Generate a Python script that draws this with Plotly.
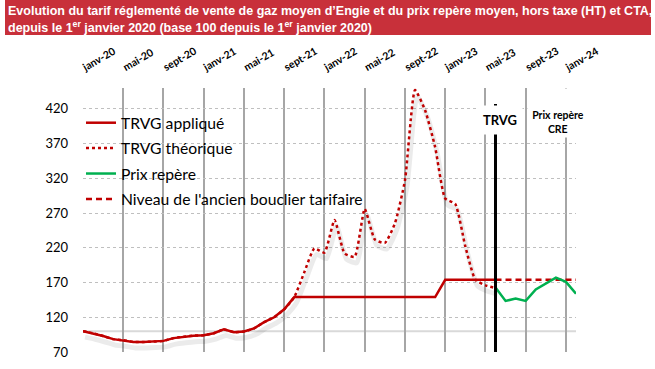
import plotly.graph_objects as go

# ---------------- data ----------------
MONTHS_FR = ["janv", "févr", "mars", "avr", "mai", "juin",
             "juil", "août", "sept", "oct", "nov", "déc"]
CATEGORIES = [f"{m}-{y}" for y in range(20, 25) for m in MONTHS_FR][:50]   # janv-20 .. févr-24
TICK_LABELS = CATEGORIES[::4]                                             # janv-20, mai-20, ... janv-24

TRVG_APPLIQUE = [100, 97, 93, 88.5, 87, 84.5, 84.5, 85, 86, 90, 92, 93.5,
                 94, 97, 102.5, 98.5, 99.5, 104, 113, 120, 131.5, 149,
                 149, 149, 149, 149, 149, 149, 149, 149, 149, 149, 149, 149, 149, 149,
                 174, 174, 174, 174, 174, 174]
TRVG_THEORIQUE = [100, 97, 93, 88.5, 87, 84.5, 84.5, 85, 86, 90, 92, 93.5,
                  94, 97, 102.5, 98.5, 99.5, 104, 113, 120, 131.5, 149,
                  185, 219, 213, 260, 212, 207, 276, 232, 227, 255, 317, 447,
                  418, 365, 291, 283, 222, 174, 166, 162]
PRIX_REPERE = [163, 143.5, 147, 143.5, 160, 168, 177, 171, 154]
BOUCLIER = [174, 174, 174, 174, 174, 174, 174, 174, 174]

X_TRVG = CATEGORIES[:len(TRVG_APPLIQUE)]
X_PRIX = CATEGORIES[len(TRVG_APPLIQUE) - 1:]

Y_TICKS = [70, 120, 170, 220, 270, 320, 370, 420]
Y_RANGE = [70, 450]
BASE = 100
TRVG_END = "juin-23"

TITLE_L1 = "Evolution du tarif réglementé de vente de gaz moyen d’Engie et du prix repère moyen, hors taxe (HT) et CTA,"
TITLE_L2 = "depuis le 1<sup>er</sup> janvier 2020 (base 100 depuis le 1<sup>er</sup> janvier 2020)"

# ---------------- styling ----------------
W, H = 655, 369
ML, MR, MT, MB = 83, 79, 88, 17
PW, PH = W - ML - MR, H - MT - MB


def px_x(x):
    return (x - ML) / PW


def px_y(y):
    return (H - MB - y) / PH


RED = "#C00000"
GREEN = "#00B050"
FONT = "Lato, 'Open Sans', sans-serif"
TITLE_FONT = "'Liberation Sans Narrow', 'Arial Narrow', 'Liberation Sans', Arial, sans-serif"
SHADOW_DX = 0.2        # months
SHADOW_DY = 8.6        # index units

fig = go.Figure()

# soft shadow of the theoretical curve (drawn on shifted, hidden base axes)
fig.add_trace(go.Scatter(
    x=X_TRVG, y=TRVG_THEORIQUE, mode="lines", xaxis="x", yaxis="y",
    line=dict(color="rgba(0,0,0,0.08)", width=5, shape="spline", smoothing=0.5),
    showlegend=False, hoverinfo="skip"))

fig.add_trace(go.Scatter(
    x=X_TRVG, y=TRVG_THEORIQUE, mode="lines", name="TRVG théorique",
    xaxis="x2", yaxis="y2", legendrank=2, legendgroup="b",
    line=dict(color=RED, width=2.5, dash="dot", shape="spline", smoothing=0.5)))
fig.add_trace(go.Scatter(
    x=X_TRVG, y=TRVG_APPLIQUE, mode="lines", name="TRVG appliqué",
    xaxis="x2", yaxis="y2", legendrank=1, legendgroup="a",
    line=dict(color=RED, width=2.5)))
fig.add_trace(go.Scatter(
    x=X_PRIX, y=BOUCLIER, mode="lines", name="Niveau de l'ancien bouclier tarifaire",
    xaxis="x2", yaxis="y2", legendrank=4, legendgroup="d",
    line=dict(color=RED, width=2.5, dash="6px,4px")))
fig.add_trace(go.Scatter(
    x=X_PRIX, y=PRIX_REPERE, mode="lines", name="Prix repère",
    xaxis="x2", yaxis="y2", legendrank=3, legendgroup="c",
    line=dict(color=GREEN, width=2.5)))

fig.update_layout(
    width=W, height=H,
    margin=dict(l=ML, r=MR, t=MT, b=MB, autoexpand=False),
    paper_bgcolor="white", plot_bgcolor="white",
    font=dict(family=FONT, color="#000000"),
    xaxis=dict(type="category", categoryorder="array", categoryarray=CATEGORIES,
               range=[-SHADOW_DX, len(CATEGORIES) - 1 - SHADOW_DX], visible=False,
               automargin=False),
    yaxis=dict(range=[Y_RANGE[0] + SHADOW_DY, Y_RANGE[1] + SHADOW_DY], visible=False,
               automargin=False),
    xaxis2=dict(type="category", categoryorder="array", categoryarray=CATEGORIES,
                overlaying="x", side="top", range=[0, len(CATEGORIES) - 1],
                tickmode="array", tickvals=TICK_LABELS, ticktext=TICK_LABELS,
                tickangle=-30, tickfont=dict(size=10.5, color="#000000", weight="bold"),
                ticks="", ticklabelstandoff=13, automargin=False,
                showgrid=True, gridcolor="#A6A6A6", gridwidth=1.5,
                showline=False, zeroline=False),
    yaxis2=dict(overlaying="y", side="left", range=Y_RANGE,
                tickmode="array", tickvals=Y_TICKS, automargin=False,
                tickfont=dict(size=13, color="#000000"), ticks="", ticklabelstandoff=14,
                showgrid=True, gridcolor="#BFBFBF", gridwidth=1, griddash="dot",
                showline=False, zeroline=False),
    legend=dict(x=px_x(81), y=px_y(106), xanchor="left", yanchor="top",
                bgcolor="rgba(0,0,0,0)", font=dict(size=15.7, color="#000000"),
                traceorder="grouped", tracegroupgap=2, itemwidth=30),
    showlegend=True,
)

shapes = [
    # title banner
    dict(type="rect", xref="paper", yref="paper",
         x0=px_x(5), x1=px_x(651), y0=px_y(35), y1=px_y(0),
         fillcolor="#C8303A", line=dict(width=0), layer="below"),
    # base 100 line
    dict(type="line", xref="paper", yref="y2", x0=0, x1=1, y0=BASE, y1=BASE,
         line=dict(color="#D9D9D9", width=2), layer="between"),
    # end of TRVG
    dict(type="line", xref="x2", yref="paper", x0=TRVG_END, x1=TRVG_END,
         y0=0, y1=px_y(104), line=dict(color="#000000", width=3), layer="above"),
]
fig.update_layout(shapes=shapes)

annotations = [
    dict(text=TITLE_L1, xref="paper", yref="paper",
         x=px_x(6), y=px_y(11), xanchor="left", yanchor="middle", align="left",
         showarrow=False, font=dict(family=TITLE_FONT, size=12.5, color="white", weight="bold")),
    dict(text=TITLE_L2, xref="paper", yref="paper",
         x=px_x(6), y=px_y(27), xanchor="left", yanchor="middle", align="left",
         showarrow=False, font=dict(family=TITLE_FONT, size=12.5, color="white", weight="bold")),
    dict(text="<b>TRVG</b>", xref="x2", yref="paper", x=TRVG_END, y=px_y(120),
         xanchor="center", yanchor="middle",
         xshift=4, showarrow=False, bgcolor="white", width=38, height=22, borderpad=3,
         font=dict(size=13, color="#000000")),
    dict(text="<b>Prix repère<br>CRE</b>", xref="paper", yref="paper",
         x=px_x(558), y=1, xanchor="center", yanchor="top", showarrow=False,
         bgcolor="white", width=56, height=44, borderpad=2, valign="bottom",
         font=dict(size=10.5, color="#000000")),
]
fig.update_layout(annotations=annotations)

# the page is photographed from its top-left corner: drop the browser's default body margin
fig.write_html("out.html", config={"displayModeBar": False},
               post_script="document.body.style.margin = '0';")
